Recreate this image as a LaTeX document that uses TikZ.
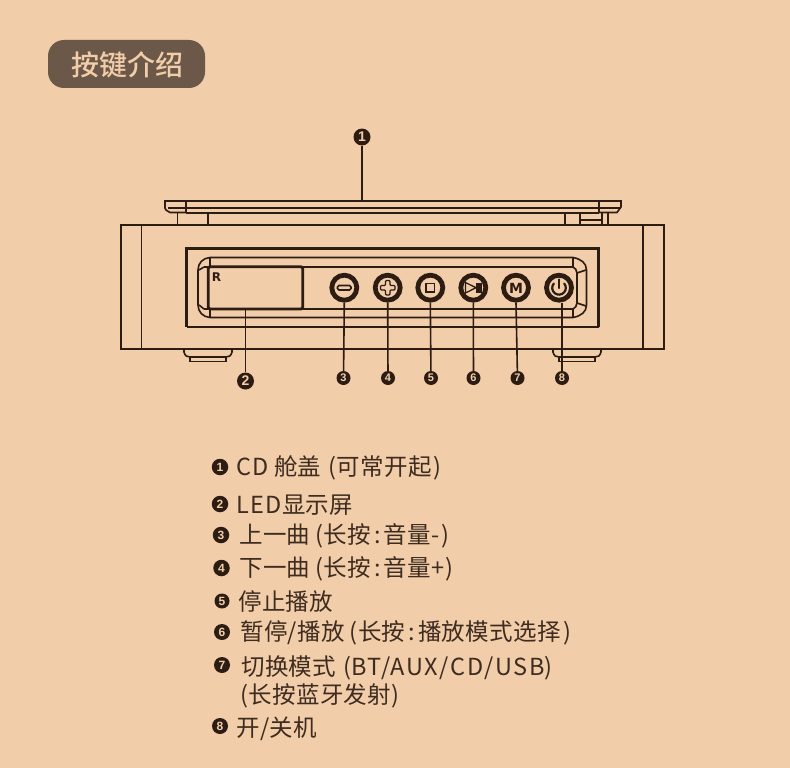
\documentclass[tikz,border=0pt]{standalone}
\usepackage{fontspec}
\setmainfont{Noto Sans CJK SC}
\newfontfamily\numfont{Liberation Sans}
\newfontfamily\heavyfont{DejaVu Sans}
\newfontfamily\listfont[LetterSpace=1.5]{Noto Sans CJK SC}
\newfontfamily\titlefont{Noto Sans CJK SC Medium}
\definecolor{paper}{RGB}{241, 205, 169}
\definecolor{ink}{RGB}{44, 28, 18}
\definecolor{listink}{RGB}{62, 44, 32}
\definecolor{tag}{RGB}{107, 88, 72}

\newcommand{\openpar}{\kern5pt(}
\newcommand{\colonsep}{\kern3pt:\kern3pt}

\tikzset{
  thinline/.style={ink, line width=1.6pt},
  bigbadge/.style={circle, fill=ink, text=paper, inner sep=0pt, minimum size=17pt,
    font=\numfont\bfseries\fontsize{14}{14}\selectfont},
  smallbadge/.style={circle, fill=ink, text=paper, inner sep=0pt, minimum size=14pt,
    font=\numfont\bfseries\fontsize{11}{11}\selectfont},
  listbadge/.style={smallbadge, minimum size=16.5pt,
    font=\numfont\bfseries\fontsize{12}{12}\selectfont},
  keybtn/.style={circle, draw=ink, line width=4.8pt, inner sep=0pt, minimum size=25pt},
  itemtext/.style={anchor=west, inner sep=0pt, text=listink,
    font=\listfont\fontsize{23.5}{24}\selectfont},
}

\begin{document}
\begin{tikzpicture}[x=1pt, y=-1pt]

\fill[paper] (0,0) rectangle (790,768);
\useasboundingbox (0,0) rectangle (790,768);

% ===== TITLE TAG =====
\node[fill=tag, rounded corners=16pt, minimum width=157pt, minimum height=48pt,
  inner sep=0pt] (title) at (126.5,64) {};
\node[inner sep=0pt, text=paper, font=\titlefont\fontsize{28}{28}\selectfont]
  (titletext) at (127.5,64.5) {按键介绍};

% ===== LID AND HINGES =====
\draw[thinline] (186,212.5) -- (170,212.5) -- (166,210) -- (165,208) -- (165,201)
  -- (621,201) -- (621,207) -- (617,212.5) -- (599,212.5);
\draw[thinline] (168,208) -- (621,208);
\draw[ink, line width=2.6pt] (186,213) -- (599,213);
\draw[thinline] (186,201) -- (186,213);
\draw[thinline] (599,201) -- (599,213);

\draw[thinline] (177.5,213) -- (177.5,225);
\draw[thinline] (208,213) -- (208,225);
\draw[thinline] (565,213) -- (565,225);
\draw[thinline] (580,213) -- (580,225);
\draw[thinline] (602,213) -- (602,225);
\draw[thinline] (608,213) -- (608,225);
\draw[thinline] (580,220) -- (602,220);

% ===== BODY AND FEET =====
\draw[thinline] (121,225) rectangle (664,349);
\draw[thinline] (141.5,225) -- (141.5,349);
\draw[thinline] (643,225) -- (643,349);

\draw[thinline] (184,349) -- (184,352) .. controls (185,356) and (187,357) .. (190,357)
  -- (226,357) .. controls (229,357) and (231,356) .. (232,352) -- (232,349);
\draw[thinline] (190,357) -- (190,361.5) -- (226,361.5) -- (226,357);
\draw[thinline] (553,349) -- (553,352) .. controls (554,356) and (556,357) .. (559,357)
  -- (595,357) .. controls (598,357) and (600,356) .. (601,352) -- (601,349);
\draw[thinline] (559,357) -- (559,361.5) -- (595,361.5) -- (595,357);

% ===== FRONT PANEL =====
\draw[ink, line width=2.6pt] (186.7,326.7) -- (186.7,248.3) -- (598.5,248.3) -- (598.5,326.7);
\draw[ink, line width=1.8pt] (186.7,326.7) -- (598.5,326.7);

% bezel around display and keys
\draw[thinline] (210,257.5) .. controls (203,258) and (198,263) .. (198,270)
  -- (198,305) .. controls (198,312) and (203,317) .. (210,317.5)
  -- (573,317.5) .. controls (581,316) and (586.5,312) .. (586.5,305)
  -- (586.5,270) .. controls (586.5,263) and (581,259) .. (573,257.5) -- cycle;
\draw[thinline] (204,267) -- (573,267) .. controls (575,268) and (577,270) .. (577,273)
  -- (577,303) .. controls (577,306) and (575,308) .. (573,309) -- (204,309);
\draw[thinline] (199,270) -- (204,267);
\draw[thinline] (199,305) -- (204,309);
\draw[thinline] (577,273) -- (586,270);
\draw[thinline] (577,303) -- (586,306);
\draw[thinline] (210,257.5) -- (210,267);
\draw[thinline] (210,309) -- (210,317.5);
\draw[thinline] (573,257.5) -- (573,267);
\draw[thinline] (573,309) -- (573,317.5);

% display
\draw[ink, line width=2.8pt, fill=paper, rounded corners=2pt]
  (208.3,266.7) rectangle (302.7,309);
\node[inner sep=0pt, text=ink, font=\heavyfont\bfseries\fontsize{12}{12}\selectfont]
  (logo) at (216.5,277) {R};
\coordinate (disp) at (245.5,309);

% ===== KEYS =====
\node[keybtn] (keyminus) at (344.3,287.7) {};
\node[keybtn] (keyplus) at (387.7,287.7) {};
\node[keybtn] (keystop) at (430.3,287.7) {};
\node[keybtn] (keyplay) at (473.3,287.7) {};
\node[keybtn] (keymode) at (516,287.7) {};
\node[keybtn] (keypower) at (559,287.7) {};

\draw[ink, line width=1.6pt, rounded corners=1.5pt]
  (337.5,285.5) rectangle (351,290);
\draw[ink, line width=1.4pt, rounded corners=1pt]
  (385.5,280.5) -- (390,280.5) -- (390,285.5) -- (395,285.5) -- (395,290) -- (390,290)
  -- (390,295) -- (385.5,295) -- (385.5,290) -- (380.5,290) -- (380.5,285.5)
  -- (385.5,285.5) -- cycle;
\draw[ink, line width=1.4pt] (426,283.5) rectangle (434.5,292);
\draw[ink, line width=1.3pt] (465.5,282.5) -- (476,287.7) -- (465.5,293) -- cycle;
\fill[ink] (476,283) rectangle (481.5,292.5);
\node[inner sep=0pt, text=ink, font=\heavyfont\bfseries\fontsize{14}{14}\selectfont]
  (modeM) at (516,288) {M};
\draw[ink, line width=2.2pt, line cap=round]
  (553.8,283.5) arc[start angle=220, end angle=-40, radius=6.8];
\draw[ink, line width=2.2pt, line cap=round] (559,279.5) -- (559,288);

% ===== CALL-OUT NUMBERS =====
\node[bigbadge] (lidnum) at (362,137) {1};
\node[bigbadge] (dispnum) at (245.5,381) {2};
\node[smallbadge] (minusnum) at (343.5,378) {3};
\node[smallbadge] (plusnum) at (388,378) {4};
\node[smallbadge] (stopnum) at (431,378) {5};
\node[smallbadge] (playnum) at (473.5,378) {6};
\node[smallbadge] (modenum) at (517.5,378) {7};
\node[smallbadge] (powernum) at (562,378) {8};

\coordinate (lidtop) at (362,201);
\draw[thinline] (lidnum) -- (lidtop);
\draw[thinline] (dispnum) -- (disp);
\draw[thinline] (keyminus.south) -- (minusnum);
\draw[thinline] (keyplus.south) -- (plusnum);
\draw[thinline] (keystop.south) -- (stopnum);
\draw[thinline] (keyplay.south) -- (playnum);
\draw[thinline] (keymode.south) -- (modenum);
\draw[thinline] (powernum) -- (powernum |- keypower.south);

% ===== KEY LIST =====
\node[listbadge] (itemA) at (220,467) {1};
\node[itemtext] (textA) at (236.7,468) {CD 舱盖\kern7pt(可常开起\kern1.5pt)};
\node[listbadge] (itemB) at (220,504) {2};
\node[itemtext] (textB) at (236.7,505) {L\kern1pt E\kern1pt D显示屏};
\node[listbadge] (itemC) at (221,535) {3};
\node[itemtext] (textC) at (239,536) {上一曲\openpar 长按\colonsep 音量-\kern2pt)};
\node[listbadge] (itemD) at (221.5,568) {4};
\node[itemtext] (textD) at (239,569) {下一曲\openpar 长按\colonsep 音量+\kern1pt)};
\node[listbadge, minimum size=15pt] (itemE) at (222,601) {5};
\node[itemtext] (textE) at (238,602) {停止播放};
\node[listbadge, minimum size=16pt] (itemF) at (222,632) {6};
\node[itemtext] (textF) at (240,633) {暂停/播放\openpar 长按\colonsep 播放模式选择\kern3pt)};
\node[listbadge, minimum size=16pt] (itemG) at (222,665) {7};
\node[itemtext] (textG) at (241,668) {切换模式\kern7pt({\addfontfeature{LetterSpace=7}BT/AUX/CD/USB})};
\node[itemtext] (textH) at (240,696) {(长按蓝牙发射)};
\node[listbadge, minimum size=16pt] (itemH) at (220,726) {8};
\node[itemtext] (textI) at (236,729) {开/关机};

\end{tikzpicture}
\end{document}
